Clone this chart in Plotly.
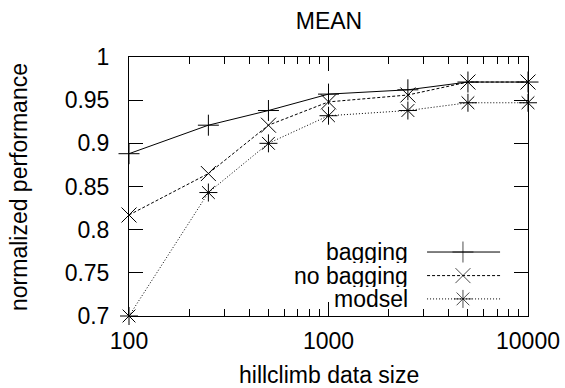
import plotly.graph_objects as go

sizes = [100, 250, 500, 1000, 2500, 5000, 10000]
bagging = [0.888, 0.921, 0.938, 0.957, 0.962, 0.971, 0.971]
no_bagging = [0.817, 0.865, 0.921, 0.948, 0.956, 0.971, 0.971]
modsel = [0.700, 0.843, 0.900, 0.932, 0.938, 0.947, 0.947]
names = ["bagging", "no bagging", "modsel"]
y_ticks = [0.7, 0.75, 0.8, 0.85, 0.9, 0.95, 1]
y_tick_text = ["0.7", "0.75", "0.8", "0.85", "0.9", "0.95", "1"]
x_ticks = [100, 1000, 10000]
x_tick_text = ["100", "1000", "10000"]

FONT = "Liberation Sans, Arial, sans-serif"
FS = 23
W, H = 565, 388
styles = [
    dict(dash="solid", symbol="cross-thin-open"),
    dict(dash="3px,2px", symbol="x-thin-open"),
    dict(dash="1px,2px", symbol="asterisk-open"),
]
series = [bagging, no_bagging, modsel]

fig = go.Figure()
for name, vals, st in zip(names, series, styles):
    fig.add_trace(go.Scatter(
        x=sizes, y=vals, mode="lines+markers", name=name,
        line=dict(color="black", width=1, dash=st["dash"]),
        marker=dict(symbol=st["symbol"], size=15, color="black",
                    line=dict(color="black", width=1)),
        showlegend=False, cliponaxis=False,
    ))

# gnuplot-style key (text left, sample right) on an overlay axis
leg_rows = [0.247, 0.156, 0.066]
leg_x0, leg_xm, leg_x1, leg_text_x = 0.747, 0.837, 0.930, 0.704
for name, st, ry in zip(names, styles, leg_rows):
    fig.add_trace(go.Scatter(
        x=[leg_x0, leg_xm, leg_x1], y=[ry, ry, ry], mode="lines+markers",
        xaxis="x2", yaxis="y2", showlegend=False, hoverinfo="skip",
        line=dict(color="black", width=1, dash=st["dash"]),
        marker=dict(symbol=st["symbol"], size=[0, 15, 0], color="black",
                    line=dict(color="black", width=1)),
        cliponaxis=False,
    ))
    fig.add_annotation(x=leg_text_x, y=ry, xref="x2", yref="y2", text=name,
                       showarrow=False, xanchor="right", yanchor="middle",
                       height=22, valign="middle",
                       font=dict(family=FONT, size=FS, color="black"))

# axis titles
fig.add_annotation(x=0.501, y=-0.228, xref="paper", yref="paper",
                   text="hillclimb data size", showarrow=False,
                   xanchor="center", yanchor="middle",
                   font=dict(family=FONT, size=FS, color="black"))
fig.add_annotation(x=(19 - 129) / 399, y=0.498, xref="paper", yref="paper",
                   text="normalized performance", showarrow=False, textangle=-90,
                   xanchor="center", yanchor="middle",
                   font=dict(family=FONT, size=FS, color="black"))

axis_common = dict(showline=True, linecolor="black", linewidth=1, mirror="allticks",
                   ticks="inside", ticklen=14, tickcolor="black", tickwidth=1,
                   showgrid=False, zeroline=False, automargin=False,
                   tickfont=dict(family=FONT, size=FS, color="black"))

fig.update_layout(
    width=W, height=H,
    margin=dict(l=129, r=37, t=57, b=72),
    paper_bgcolor="white", plot_bgcolor="white",
    hovermode=False,
    title=dict(text="MEAN", x=329 / W, xanchor="center", y=1 - 21 / H,
               yanchor="middle", font=dict(family=FONT, size=FS, color="black")),
    xaxis=dict(type="log", range=[2, 4], tickvals=x_ticks, ticktext=x_tick_text,
               ticklabelstandoff=4,
               minor=dict(ticks="inside", ticklen=7, tickcolor="black",
                          tickvals=[v * m for v in [100, 1000] for m in range(2, 10)]),
               **axis_common),
    yaxis=dict(range=[0.7, 1], tickvals=y_ticks, ticktext=y_tick_text,
               ticklabelstandoff=14,
               **axis_common),
    xaxis2=dict(overlaying="x", range=[0, 1], visible=False, fixedrange=True),
    yaxis2=dict(overlaying="y", range=[0, 1], visible=False, fixedrange=True),
)

fig.write_html(
    "out.html",
    config={"displayModeBar": False, "staticPlot": True},
    post_script="document.body.style.margin='0';document.body.style.overflow='hidden';",
)
